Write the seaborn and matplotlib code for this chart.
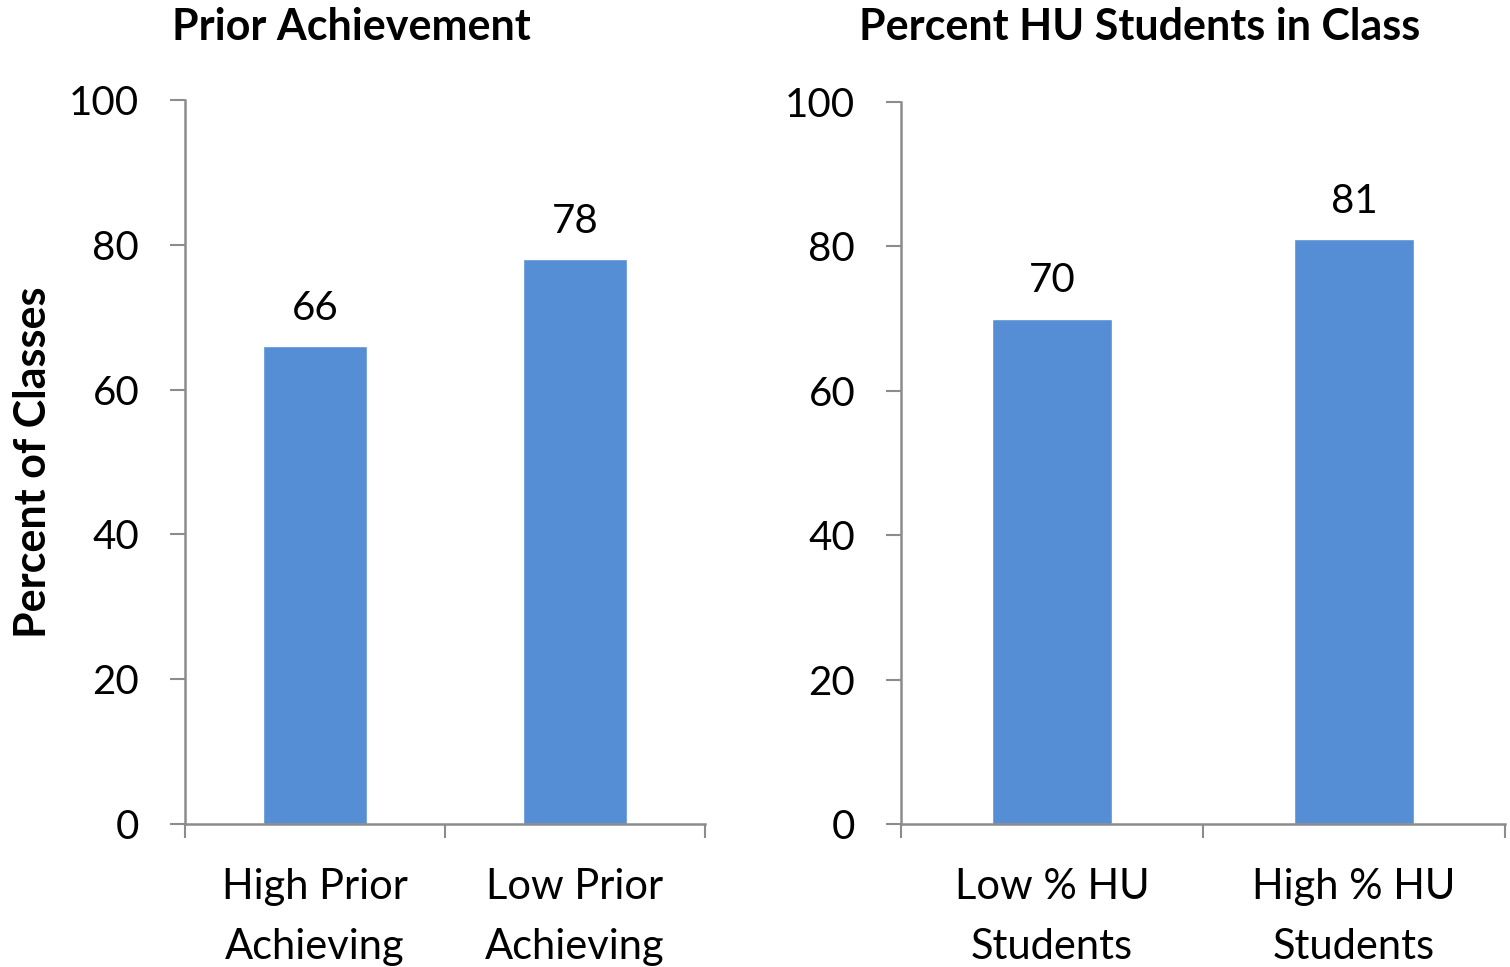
import pandas as pd
import seaborn as sns
import matplotlib.pyplot as plt
from matplotlib.ticker import FixedLocator

left_cats = ["High Prior\nAchieving", "Low Prior\nAchieving"]
left_vals = [66, 78]
right_cats = ["Low % HU\nStudents", "High % HU\nStudents"]
right_vals = [70, 81]
yticks = [0, 20, 40, 60, 80, 100]

sns.set_theme(style="white")
plt.rcParams['font.family'] = ['Lato', 'DejaVu Sans']
plt.rcParams['text.color'] = 'black'
plt.rcParams['xtick.labelcolor'] = 'black'
plt.rcParams['ytick.labelcolor'] = 'black'

bar_color = "#558ED5"
axis_color = "#8C8C8C"

fig = plt.figure(figsize=(15.1, 9.67), dpi=100)
ax1 = fig.add_axes([185 / 1510, 1 - 824 / 967, 520 / 1510, 724 / 967])
ax2 = fig.add_axes([901 / 1510, 1 - 824 / 967, 604 / 1510, 722 / 967])


def draw(ax, cats, vals):
    df = pd.DataFrame({"cat": cats, "val": vals})
    sns.barplot(data=df, x="cat", y="val", color=bar_color, width=0.4,
                saturation=1, ax=ax)
    ax.set_xlim(-0.5, 1.5)
    ax.set_ylim(0, 100)
    ax.set_yticks(yticks)
    ax.set_xlabel("")
    ax.set_ylabel("")
    for s in ["top", "right"]:
        ax.spines[s].set_visible(False)
    for s in ["left", "bottom"]:
        ax.spines[s].set_color(axis_color)
        ax.spines[s].set_linewidth(1.8)
    ax.tick_params(axis="y", direction="out", length=11, width=1.5,
                   color=axis_color, labelsize=29, pad=22, left=True,
                   labelcolor="black")
    ax.tick_params(axis="x", which="major", length=0, labelsize=30, pad=32,
                   labelcolor="black")
    ax.xaxis.set_minor_locator(FixedLocator([-0.5, 0.5, 1.5]))
    ax.tick_params(axis="x", which="minor", direction="out", length=10,
                   width=1.5, color=axis_color, bottom=True)
    for lab in ax.get_xticklabels():
        lab.set_linespacing(1.68)
    for i, v in enumerate(vals):
        ax.annotate(str(v), (i, v), xytext=(0, 14), textcoords="offset points",
                    ha="center", va="bottom", fontsize=29, color="black")


draw(ax1, left_cats, left_vals)
draw(ax2, right_cats, right_vals)

fig.text(351 / 1510, 1 - 27 / 967, "Prior Achievement", ha="center",
         va="center", fontsize=31, fontweight="bold")
fig.text(1140 / 1510, 1 - 27 / 967, "Percent HU Students in Class",
         ha="center", va="center", fontsize=31, fontweight="bold")
fig.text(33 / 1510, 1 - 462 / 967, "Percent of Classes", ha="center",
         va="center", rotation=90, fontsize=31, fontweight="bold")

plt.savefig("out.png", dpi=100)
plt.close()
